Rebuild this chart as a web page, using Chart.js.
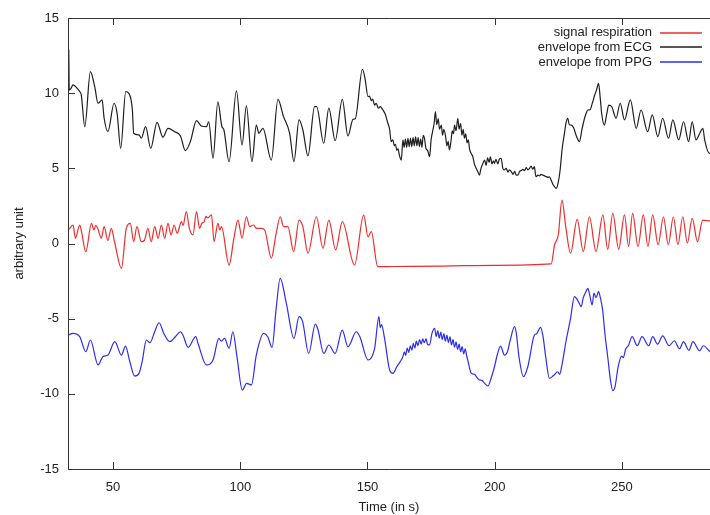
<!DOCTYPE html>
<html>
<head>
<meta charset="utf-8">
<script src="https://cdn.jsdelivr.net/npm/chart.js@4.4.1/dist/chart.umd.min.js"></script>
<style>
html,body{margin:0;padding:0;background:#fff;}
#wrap{width:710px;height:515px;}
</style>
</head>
<body>
<div id="wrap"><canvas id="c" width="710" height="515"></canvas></div>
<script>
// ---- data ----
const xTicks = [50, 100, 150, 200, 250];
const yTicks = [-15, -10, -5, 0, 5, 10, 15];

const ecgT = [32.6,32.8,33.4,34.3,35.5,36.9,37.5,38.9,41.1,42.8,44.1,45.7,46.5,48.0,50.4,51.6,53.0,55.0,56.2,57.6,58.1,60.2,61.1,62.8,64.8,67.3,69.6,71.6,74.2,76.5,78.4,80.4,82.8,84.7,86.7,87.6,89.3,91.2,92.8,93.5,95.6,98.5,100.7,102.4,104.6,106.3,107.3,108.9,112.2,114.8,117.0,119.4,121.1,123.1,124.6,126.6,129.2,130.0,132.8,134.8,137.3,140.1,142.3,144.3,145.2,148.0,149.0,150.2,150.8,151.5,152.0,152.8,153.4,154.3,155.0,156.0,157.0,158.0,158.7,159.3,160.0,160.5,161.0,161.5,162.0,162.5,163.3,163.9,164.4,164.9,165.4,165.9,166.4,166.9,167.4,167.9,168.4,168.9,169.4,169.9,170.4,170.9,171.4,171.9,172.4,173.0,173.6,174.4,175.0,175.7,176.2,176.7,177.2,177.8,178.3,179.0,179.5,180.0,180.7,181.2,181.7,182.2,182.8,183.3,183.8,184.2,184.8,185.5,186.0,186.6,187.1,187.6,188.1,188.6,189.1,189.6,190.1,190.7,191.4,192.0,192.7,193.3,194.0,194.6,195.3,196.0,196.6,197.2,197.8,198.3,198.9,199.5,199.9,200.5,201.2,201.8,202.5,203.2,203.8,204.5,205.2,205.8,206.5,207.2,207.8,208.5,209.1,209.8,210.4,211.0,211.7,212.4,213.0,213.7,214.3,214.9,215.6,216.0,216.3,217.0,217.6,218.2,218.9,219.6,220.2,221.0,221.5,222.2,223.0,224.2,225.0,225.7,226.5,227.4,228.0,228.7,229.3,230.1,231.0,232.2,233.3,234.3,235.3,236.0,236.6,237.5,238.3,239.3,240.0,240.8,241.5,242.1,243.1,244.0,244.8,246.0,247.7,249.3,251.0,253.3,255.6,257.5,260.1,261.9,264.1,266.0,268.3,270.0,272.3,274.2,276.2,277.6,279.1,280.5,281.8,282.5,284.4,285.0];
const ecgV = [12.9,10.2,10.3,10.55,10.4,10.1,9.9,7.77,11.43,10.43,9.33,9.55,8.33,7.44,9.33,8.66,6.33,10.1,9.99,8.88,7.33,7.22,7.0,7.77,6.33,8.06,7.07,7.66,7.44,7.15,6.18,6.78,8.17,7.82,7.77,8.1,5.67,9.43,7.77,7.6,5.44,10.15,6.55,9.15,5.44,7.88,7.33,7.66,5.55,9.59,8.44,7.33,5.44,8.22,7.55,5.82,9.1,9.1,6.67,9.0,6.84,9.59,7.15,8.26,8.3,11.59,11.0,9.77,9.8,9.5,9.6,9.21,9.33,9.0,9.1,8.9,8.6,8.0,7.6,6.78,6.9,6.5,6.6,6.2,6.3,5.9,5.55,6.89,6.4,6.95,6.4,7.0,6.45,7.0,6.45,7.05,6.5,7.1,6.5,7.05,6.45,6.95,6.4,7.2,7.0,6.3,6.2,5.77,6.9,7.55,8.0,8.77,7.9,8.3,7.6,7.88,7.2,7.6,7.11,6.5,6.8,6.22,6.8,7.5,7.3,7.88,7.5,8.33,7.6,8.0,7.2,7.6,7.0,7.3,6.7,6.9,6.3,6.0,5.77,5.3,5.0,4.8,4.55,5.0,5.3,5.55,5.2,5.7,5.4,5.77,5.3,5.5,5.33,5.6,5.3,5.6,5.67,5.0,4.89,5.0,4.75,4.9,4.78,4.6,4.8,4.55,4.55,4.8,4.85,4.93,4.85,5.05,4.9,5.0,5.15,4.95,5.11,4.6,4.44,4.55,4.5,4.6,4.55,4.5,4.45,4.4,4.44,4.2,3.9,3.67,4.1,4.89,6.3,7.33,8.0,8.33,7.9,7.88,7.7,7.1,6.78,7.6,8.33,8.7,8.88,8.9,9.3,9.88,10.2,10.66,9.6,8.55,7.88,8.6,9.21,9.1,8.33,9.33,8.22,9.55,7.66,8.88,7.44,8.55,7.11,8.33,7.0,8.22,6.89,8.1,6.78,8.1,6.89,7.3,7.66,6.9,6.0,6.0];

const respT = [32.3,33.0,34.3,35.2,36.9,37.6,39.3,41.5,42.5,43.2,44.0,45.4,46.5,48.0,49.3,50.6,53.3,55.2,56.8,58.1,59.4,61.1,62.3,63.7,65.0,66.4,67.7,69.0,70.3,71.6,72.8,74.0,75.2,76.9,77.5,78.8,80.0,81.4,82.8,84.0,84.9,85.8,86.5,87.2,88.7,89.7,91.2,92.0,92.6,95.6,97.5,99.1,100.7,102.4,103.7,105.2,106.3,108.3,109.6,112.2,114.0,115.7,117.0,118.7,121.0,123.1,124.6,126.6,129.9,132.5,134.8,137.5,140.1,144.9,148.5,150.2,151.5,154.0,160.0,180.0,200.0,222.2,223.5,225.0,226.4,228.0,229.8,232.4,234.8,237.2,239.8,242.5,244.4,246.4,248.7,251.0,252.6,254.2,256.3,258.4,260.2,262.1,264.2,266.3,268.2,270.2,272.0,273.9,275.7,277.6,279.7,281.7,284.6];
const respV = [0.9,1.01,1.23,0.35,1.23,0.8,-0.55,1.34,0.9,1.2,1.0,0.35,1.12,0.2,1.0,0.1,-1.65,1.01,1.34,0.12,1.12,0.12,0.2,1.01,0.12,1.12,0.35,1.23,0.35,1.34,0.57,1.23,0.68,1.45,1.2,2.12,1.0,0.57,2.12,1.0,1.34,1.45,1.8,1.7,1.9,0.12,1.34,0.9,1.12,-1.43,0.35,1.56,0.35,1.78,1.12,1.23,1.01,1.01,0.9,-0.98,0.57,1.78,1.12,1.12,-0.55,1.56,1.12,-0.65,1.78,-0.32,1.56,-0.43,1.45,-1.43,1.9,0.45,0.79,-1.54,-1.53,-1.5,-1.45,-1.36,-0.1,0.6,2.89,1.0,-0.65,1.6,-0.54,1.78,-0.54,1.9,-0.39,2.0,-0.39,1.9,-0.2,2.0,-0.2,1.9,-0.2,1.9,-0.09,1.78,-0.09,1.78,-0.09,1.78,0.02,1.67,0.12,1.56,1.5];

const ppgT = [32.3,34.3,36.9,39.3,41.1,44.1,46.0,48.0,50.7,53.3,54.9,56.5,58.5,60.2,61.5,63.1,64.5,66.5,68.1,70.0,72.3,74.5,76.5,77.5,79.5,82.5,83.5,86.7,89.3,91.6,92.5,93.8,95.6,97.1,98.7,100.8,102.5,104.4,106.3,109.2,110.8,112.5,114.0,115.7,118.1,121.1,123.1,124.5,126.9,129.5,130.5,132.8,134.8,137.3,140.1,142.3,145.6,147.0,150.2,152.8,154.5,155.0,155.5,156.7,158.7,160.0,161.5,163.9,164.5,165.0,165.6,166.2,166.8,167.4,168.0,168.6,169.2,169.8,170.5,171.1,171.7,172.3,173.0,173.6,174.4,175.3,176.4,177.0,177.6,178.2,178.8,179.4,180.0,180.6,181.2,181.8,182.4,183.0,183.6,184.2,184.8,185.4,186.0,186.6,187.2,187.8,188.4,189.0,189.4,190.8,192.0,193.0,194.0,195.0,196.0,197.3,198.5,199.9,201.0,202.3,203.8,205.0,206.0,207.8,208.5,209.5,211.3,213.0,215.6,216.5,218.0,219.0,220.0,221.5,223.0,224.8,225.5,226.5,228.1,229.8,231.3,232.3,233.0,234.0,234.8,235.6,236.6,237.3,238.3,239.0,239.8,240.8,241.5,242.4,243.3,244.4,245.4,246.4,247.3,248.5,249.9,250.5,251.5,252.5,254.0,256.0,257.9,260.5,262.1,264.0,266.0,268.5,270.6,272.6,274.2,276.3,277.9,280.5,282.0,284.6];
const ppgV = [-6.09,-5.98,-6.2,-7.2,-6.42,-8.08,-7.53,-7.42,-6.53,-7.42,-6.82,-7.8,-8.82,-8.64,-7.8,-6.42,-6.6,-5.8,-5.27,-6.0,-6.53,-6.2,-5.87,-6.1,-6.91,-6.2,-6.7,-8.08,-7.75,-6.31,-6.5,-6.31,-6.97,-5.87,-7.53,-9.75,-9.3,-9.41,-7.42,-5.98,-6.2,-6.91,-4.5,-2.32,-3.98,-6.31,-4.87,-5.2,-7.31,-5.36,-5.7,-7.31,-6.75,-7.31,-5.76,-6.87,-5.87,-6.2,-7.75,-6.97,-4.87,-5.6,-5.4,-6.31,-8.42,-8.64,-8.2,-7.53,-7.2,-7.45,-6.95,-7.25,-6.8,-7.1,-6.65,-6.95,-6.5,-6.8,-6.4,-6.7,-6.35,-6.6,-6.35,-6.7,-6.75,-6.0,-5.64,-6.2,-5.8,-6.3,-5.9,-6.4,-6.0,-6.5,-6.1,-6.6,-6.2,-6.75,-6.4,-6.9,-6.55,-7.05,-6.7,-7.2,-6.85,-7.35,-7.0,-7.5,-7.75,-8.64,-8.7,-8.9,-9.08,-9.1,-9.3,-9.48,-9.0,-8.2,-7.4,-6.82,-7.42,-7.2,-6.5,-5.53,-6.0,-7.5,-8.86,-8.2,-6.09,-6.0,-5.58,-6.2,-7.5,-8.97,-8.8,-8.53,-8.7,-8.0,-6.42,-4.98,-3.54,-3.7,-3.9,-4.2,-3.6,-3.3,-2.98,-3.4,-4.09,-3.3,-3.6,-3.2,-3.6,-4.42,-6.0,-7.53,-9.0,-9.79,-9.5,-8.2,-7.49,-7.6,-7.0,-6.8,-6.2,-6.8,-6.2,-6.8,-6.2,-6.7,-6.15,-6.8,-6.47,-7.0,-6.53,-7.1,-6.53,-7.13,-6.8,-7.2];

const seriesLabels = ['signal respiration', 'envelope from ECG', 'envelope from PPG'];
const seriesColors = ['rgb(238,45,45)', 'rgb(30,30,30)', 'rgb(45,45,238)'];

function pts(t, v) { return t.map((x, i) => ({ x: x, y: v[i] })); }

const FONT = '"Liberation Sans", Arial, Helvetica, sans-serif';
const TXT = '#222';

// frame, inward ticks, and gnuplot-style key
const framePlugin = {
  id: 'frame',
  afterDatasetsDraw(chart) {
    const { ctx, chartArea: a, scales } = chart;
    ctx.save();
    ctx.strokeStyle = '#333';
    ctx.lineWidth = 1;
    ctx.beginPath();
    ctx.moveTo(a.right + 1, a.top + 0.5);
    ctx.lineTo(Math.round(a.left) + 0.5, a.top + 0.5);
    ctx.lineTo(Math.round(a.left) + 0.5, Math.round(a.bottom) + 0.5);
    ctx.lineTo(a.right + 1, Math.round(a.bottom) + 0.5);
    ctx.stroke();
    const tl = 7;
    ctx.beginPath();
    xTicks.forEach(v => {
      const px = Math.round(scales.x.getPixelForValue(v)) + 0.5;
      ctx.moveTo(px, a.bottom); ctx.lineTo(px, a.bottom - tl);
      ctx.moveTo(px, a.top); ctx.lineTo(px, a.top + tl);
    });
    yTicks.forEach(v => {
      const py = Math.round(scales.y.getPixelForValue(v)) + 0.5;
      ctx.moveTo(a.left, py); ctx.lineTo(a.left + tl, py);
    });
    ctx.stroke();
    // key
    ctx.font = '13px ' + FONT;
    ctx.textAlign = 'right';
    ctx.textBaseline = 'middle';
    [0, 1, 2].forEach((di, k) => {
      const ds = chart.data.datasets[di];
      const y = a.top + 14.5 + k * 14.8;
      ctx.fillStyle = TXT;
      ctx.fillText(ds.label, a.right - 58, y);
      ctx.strokeStyle = ds.borderColor;
      ctx.lineWidth = 1.3;
      ctx.beginPath();
      ctx.moveTo(a.right - 50, Math.round(y));
      ctx.lineTo(a.right - 8, Math.round(y));
      ctx.stroke();
    });
    ctx.restore();
  }
};

const lineDs = (label, color, t, v, order) => ({
  label: label,
  data: pts(t, v),
  borderColor: color,
  backgroundColor: color,
  borderWidth: 1.2,
  pointRadius: 0,
  cubicInterpolationMode: 'monotone',
  fill: false,
  order: order
});

new Chart(document.getElementById('c'), {
  type: 'line',
  data: {
    datasets: [
      lineDs(seriesLabels[0], seriesColors[0], respT, respV, 1),
      lineDs(seriesLabels[1], seriesColors[1], ecgT, ecgV, 2),
      lineDs(seriesLabels[2], seriesColors[2], ppgT, ppgV, 0)
    ]
  },
  options: {
    responsive: false,
    animation: false,
    devicePixelRatio: 1,
    layout: { padding: { top: 18, right: 0, left: 0, bottom: 0 } },
    plugins: { legend: { display: false }, tooltip: { enabled: false } },
    scales: {
      x: {
        type: 'linear',
        min: 32.3,
        max: 284.6,
        afterBuildTicks: s => { s.ticks = xTicks.map(v => ({ value: v })); },
        afterFit: s => { s.height = 46; },
        grid: { display: false, drawTicks: false },
        border: { display: false },
        ticks: { color: TXT, font: { family: FONT, size: 13 }, padding: 11, maxRotation: 0 },
        title: { display: true, text: 'Time (in s)', color: TXT, font: { family: FONT, size: 13 }, padding: { top: 0, bottom: 0 } }
      },
      y: {
        type: 'linear',
        min: -15,
        max: 15,
        afterBuildTicks: s => { s.ticks = yTicks.map(v => ({ value: v })); },
        afterFit: s => { s.width = 68; },
        grid: { display: false, drawTicks: false },
        border: { display: false },
        ticks: { color: TXT, font: { family: FONT, size: 13 }, padding: 9 },
        title: { display: true, text: 'arbitrary unit', color: TXT, font: { family: FONT, size: 13 }, padding: { top: 12, bottom: 0 } }
      }
    }
  },
  plugins: [framePlugin]
});
</script>
</body>
</html>
